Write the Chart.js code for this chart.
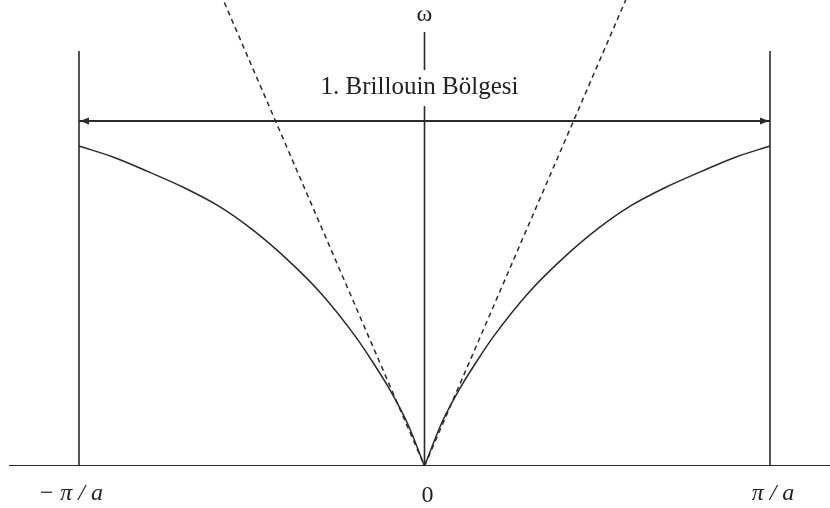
<!DOCTYPE html>
<html>
<head>
<meta charset="utf-8">
<script src="https://cdn.jsdelivr.net/npm/chart.js@4.4.0/dist/chart.umd.min.js"></script>
<style>
  body { margin: 0; background: #fff; }
  #wrap { width: 830px; height: 508px; position: relative; }
</style>
</head>
<body>
<div id="wrap"><canvas id="dispersion"></canvas></div>
<script>
// wave number in units of pi/a, frequency in units of the zone-edge maximum
var kLeft = [-1, -0.9, -0.8, -0.7, -0.6, -0.5, -0.4, -0.3, -0.2, -0.15, -0.1, -0.05, 0];
var omegaLeft = [1.0, 0.965, 0.92, 0.872, 0.815, 0.74, 0.648, 0.54, 0.405, 0.325, 0.238, 0.135, 0];
var kRight = [0, 0.05, 0.1, 0.15, 0.2, 0.3, 0.4, 0.5, 0.6, 0.7, 0.8, 0.9, 1];
var omegaRight = [0, 0.135, 0.238, 0.325, 0.405, 0.54, 0.648, 0.74, 0.815, 0.872, 0.92, 0.965, 1.0];

// long-wavelength (sound) lines
var soundK = [-0.6, 0, 0.6];
var soundOmega = [1.5, 0, 1.5];

// zone boundaries and the labels under them
var zoneEdges = [-1, 1];
var edgeTop = 1.297;
var omegaAxisTop = 1.356;
var arrowOmega = 1.078;
var tickValues = [-1, 0, 1];
var tickLabels = ['\u2212 \u03c0 / a', '0', '\u03c0 / a'];
var zoneLabel = '1. Brillouin B\u00f6lgesi';

var xMin = -1.2287, xMax = 1.1737;
var axisStart = -1.2026;

function pts(xs, ys) {
    var out = [];
    for (var i = 0; i < xs.length; i++) out.push({x: xs[i], y: ys[i]});
    return out;
}

var lineColor = '#2a2a2a';

function seg(data, width, dash) {
    return {
        data: data,
        showLine: true,
        borderColor: lineColor,
        borderWidth: width,
        borderDash: dash || [],
        pointRadius: 0,
        fill: false,
        tension: 0
    };
}

function branch(xs, ys) {
    var d = seg(pts(xs, ys), 1.5);
    d.cubicInterpolationMode = 'monotone';
    return d;
}

var datasets = [
    seg(pts([axisStart, xMax], [0, 0]), 2),
    seg(pts([zoneEdges[0], zoneEdges[0]], [0, edgeTop]), 1.6),
    seg(pts([zoneEdges[1], zoneEdges[1]], [0, edgeTop]), 1.6),
    seg(pts([0, 0], [0, omegaAxisTop]), 1.6),
    seg(pts(zoneEdges, [arrowOmega, arrowOmega]), 2),
    seg(pts(soundK.slice(0, 2), soundOmega.slice(0, 2)), 1.5, [5, 4]),
    seg(pts(soundK.slice(1), soundOmega.slice(1)), 1.5, [5, 4]),
    branch(kLeft, omegaLeft),
    branch(kRight, omegaRight)
];

// labels, arrow heads and the zone caption
var annotate = {
    id: 'annotate',
    afterDatasetsDraw: function(chart) {
        var ctx = chart.ctx;
        var xs = chart.scales.x, ys = chart.scales.y;
        var x0 = xs.getPixelForValue(0);
        var yA = ys.getPixelForValue(arrowOmega);
        ctx.save();
        ctx.fillStyle = lineColor;

        // arrow heads at the zone edges
        zoneEdges.forEach(function(k) {
            var tip = xs.getPixelForValue(k);
            var dir = k < 0 ? 1 : -1;
            ctx.beginPath();
            ctx.moveTo(tip + 1 * dir, yA);
            ctx.lineTo(tip + 10 * dir, yA - 3.5);
            ctx.lineTo(tip + 10 * dir, yA + 3.5);
            ctx.closePath();
            ctx.fill();
        });

        // zone caption over the omega axis
        ctx.font = "25px 'Liberation Serif'";
        ctx.textAlign = 'center';
        ctx.textBaseline = 'middle';
        var w = ctx.measureText(zoneLabel).width;
        var cy = ys.getPixelForValue(1.184);
        ctx.fillStyle = '#fff';
        ctx.fillRect(x0 - 5 - w / 2 - 4, cy - 17, w + 8, 36);
        ctx.fillStyle = '#222';
        ctx.fillText(zoneLabel, x0 - 5, cy);

        // omega symbol at the top of the axis
        ctx.font = "24px 'Liberation Serif'";
        ctx.fillText('\u03c9', x0, 15);

        // k tick labels
        var yb = chart.chartArea.bottom + 28;
        ctx.font = "italic 24px 'Liberation Serif'";
        ctx.textAlign = 'right';
        ctx.fillText(tickLabels[0], xs.getPixelForValue(tickValues[0]) + 24, yb);
        ctx.font = "24px 'Liberation Serif'";
        ctx.textAlign = 'center';
        ctx.fillText(tickLabels[1], xs.getPixelForValue(tickValues[1]) + 3, yb + 2);
        ctx.font = "italic 24px 'Liberation Serif'";
        ctx.fillText(tickLabels[2], xs.getPixelForValue(tickValues[2]) + 3, yb);
        ctx.restore();
    }
};

var chart = new Chart(document.getElementById('dispersion').getContext('2d'), {
    type: 'scatter',
    data: { datasets: datasets },
    options: {
        responsive: true,
        maintainAspectRatio: false,
        animation: false,
        layout: { padding: { left: 0, right: 0, top: 0, bottom: 42 } },
        plugins: { legend: { display: false }, tooltip: { enabled: false } },
        scales: {
            x: { type: 'linear', min: xMin, max: xMax, display: false },
            y: { type: 'linear', min: 0, max: 1.45625, display: false }
        }
    },
    plugins: [annotate]
});
</script>
</body>
</html>
